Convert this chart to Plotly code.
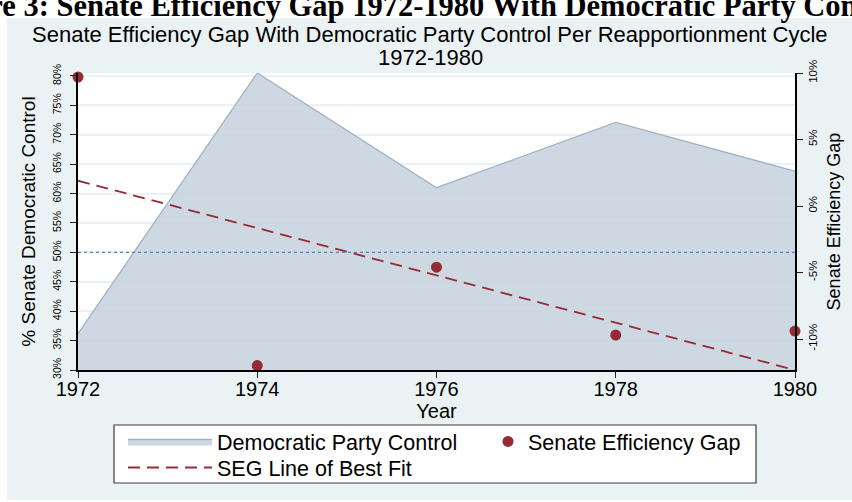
import plotly.graph_objects as go

# ---------------- data ----------------
years = [1972, 1974, 1976, 1978, 1980]
dem_control = [36.2, 80.5, 61.0, 72.1, 63.8]          # % Senate Democratic Control
seg_values = [9.7, -12.0, -4.6, -9.7, -9.4]           # Senate Efficiency Gap (%)
fit_years = [1972, 1980]
seg_fit = [1.9, -12.33]                               # SEG line of best fit
majority_level = 50

year_ticks = [1972, 1974, 1976, 1978, 1980]
left_ticks = [30, 35, 40, 45, 50, 55, 60, 65, 70, 75, 80]
left_tick_labels = ["30%", "35%", "40%", "45%", "50%", "55%", "60%", "65%", "70%", "75%", "80%"]
right_ticks = [-10, -5, 0, 5, 10]
right_tick_labels = ["-10%", "-5%", "0%", "5%", "10%"]

# ---------------- geometry ----------------
W, H = 852, 502
L, R, T, B = 78, 795, 73, 370


def fx(px):
    return (px - L) / (R - L)


def fy(py):
    return (B - py) / (B - T)


BG = "#EAF2F3"
AREA_FILL = "rgba(194,206,220,0.8)"
AREA_LINE = "#9FB2C5"
MAROON = "#952B33"
FONT = "Liberation Sans"

fig = go.Figure()

fig.add_trace(go.Scatter(
    x=years, y=dem_control, name="Democratic Party Control",
    mode="lines", fill="tozeroy", fillcolor=AREA_FILL,
    line=dict(color=AREA_LINE, width=1.3), yaxis="y", legend="legend",
))
fig.add_trace(go.Scatter(
    x=fit_years, y=seg_fit, name="SEG Line of Best Fit",
    mode="lines", line=dict(color=MAROON, width=1.8, dash="12px,7px"),
    yaxis="y2", legend="legend3", cliponaxis=False,
))
fig.add_trace(go.Scatter(
    x=years, y=seg_values, name="Senate Efficiency Gap",
    mode="markers", marker=dict(color=MAROON, size=11),
    yaxis="y2", legend="legend2", cliponaxis=False,
))

fig.add_hline(y=majority_level, line=dict(color="#5C82AE", width=1.2, dash="dot"),
              yref="y", layer="above")

shapes = [
    dict(type="rect", xref="paper", yref="paper", x0=fx(7), x1=fx(860), y0=fy(500), y1=fy(18),
         fillcolor=BG, line=dict(width=0), layer="below"),
    dict(type="rect", xref="paper", yref="paper", x0=0, x1=1, y0=0, y1=1,
         fillcolor="white", line=dict(width=0), layer="below"),
    dict(type="rect", xref="paper", yref="paper", x0=fx(114), x1=fx(756), y0=fy(483), y1=fy(425),
         fillcolor="white", line=dict(color="#3A3A3A", width=1.2), layer="below"),
]
for s in shapes:
    fig.add_shape(**s)

annotations = [
    dict(text="Figure 3: Senate Efficiency Gap 1972-1980 With Democratic Party Control",
         x=fx(-72), y=fy(25), xref="paper", yref="paper", xanchor="left", yanchor="bottom",
         showarrow=False, font=dict(family="Liberation Serif", size=30.5, color="black", weight="bold")),
    dict(text="Senate Efficiency Gap With Democratic Party Control Per Reapportionment Cycle",
         x=fx(430), y=fy(35), xref="paper", yref="paper", xanchor="center", yanchor="middle",
         showarrow=False, font=dict(family=FONT, size=22, color="black")),
    dict(text="1972-1980",
         x=fx(430), y=fy(58), xref="paper", yref="paper", xanchor="center", yanchor="middle",
         showarrow=False, font=dict(family=FONT, size=22, color="black")),
]
for a in annotations:
    fig.add_annotation(**a)

axis_common = dict(showline=True, linecolor="black", linewidth=1.5, ticks="outside",
                   ticklen=6, tickwidth=1.2, tickcolor="#222", zeroline=False)

legend_common = dict(xanchor="left", yanchor="top", orientation="v",
                     bgcolor="rgba(0,0,0,0)", borderwidth=0,
                     font=dict(size=21.5, family=FONT, color="black"))

fig.update_layout(
    width=W, height=H,
    margin=dict(l=L, r=W - R, t=T, b=H - B, autoexpand=False),
    paper_bgcolor="white", plot_bgcolor="rgba(0,0,0,0)",
    font=dict(family=FONT, color="black"),
    xaxis=dict(range=[1972, 1980], tickvals=year_ticks, showgrid=False,
               tickfont=dict(size=20), ticklabelstandoff=-6,
               title=dict(text="Year", font=dict(size=20), standoff=0),
               **axis_common),
    yaxis=dict(range=[30, 80.5], tickvals=left_ticks, ticktext=left_tick_labels,
               tickangle=-90, tickfont=dict(size=10.5), ticklabelstandoff=5,
               showgrid=True, gridcolor=BG, gridwidth=1.5,
               title=dict(text="% Senate Democratic Control", font=dict(size=19), standoff=10),
               **axis_common),
    yaxis2=dict(range=[-12.33, 10], tickvals=right_ticks, ticktext=right_tick_labels,
                overlaying="y", side="right", tickangle=-90, tickfont=dict(size=11.5),
                showgrid=False,
                title=dict(text="Senate Efficiency Gap", font=dict(size=18), standoff=10),
                **axis_common),
    legend=dict(x=fx(123), y=fy(421), itemwidth=84, **legend_common),
    legend3=dict(x=fx(123), y=fy(447), itemwidth=84, **legend_common),
    legend2=dict(x=fx(488), y=fy(421), itemwidth=30, **legend_common),
    showlegend=True,
)

fig.write_html("out.html",
               config={"displayModeBar": False},
               post_script="document.body.style.margin='0';document.body.style.overflow='hidden';")
